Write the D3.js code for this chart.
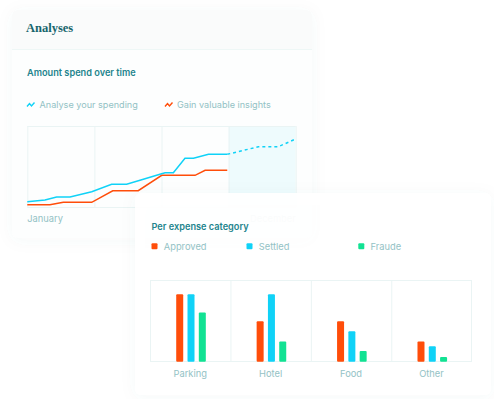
<!DOCTYPE html>
<html lang="en">
  <head>
    <meta charset="UTF-8" />
    <title>Analyses</title>
  </head>
  <style>
    body {
      margin: 0;
      background: #ffffff;
    }
    text {
      font-family: 'Inter', 'Roboto', sans-serif;
    }
  </style>
  <body>
    <svg id="svg" width="494" height="399"></svg>

    <script src="https://d3js.org/d3.v7.min.js"></script>
    <script>
      // line chart data (x in months from January, y in % of scale)
      const monthLabels = ['January', 'December'];
      const spendingX = [0, 0.79, 1.31, 1.91, 2.88, 3.77, 4.44, 5.04, 5.93, 6.16, 6.53, 7.05, 7.43, 8.1, 8.94];
      const spendingY = [6.5, 8.6, 12.3, 12.3, 18.9, 28, 28, 33, 40.4, 42.3, 42.3, 60.1, 60.1, 65, 65];
      const forecastX = [8.94, 10.33, 11.22, 12];
      const forecastY = [65, 74.4, 74.4, 84];
      const insightsX = [0, 1.01, 1.61, 2.88, 3.82, 4.96, 6.01, 7.5, 7.95, 8.94];
      const insightsY = [2.8, 2.8, 5.8, 5.8, 20.1, 20.1, 39.1, 39.1, 45.3, 45.3];
      const lineLegend = ['Analyse your spending', 'Gain valuable insights'];

      // bar chart data
      const categories = ['Parking', 'Hotel', 'Food', 'Other'];
      const statuses = ['Approved', 'Settled', 'Fraude'];
      const approved = [100, 60, 60, 30];
      const settled = [100, 100, 45, 23];
      const fraude = [73, 30, 16, 7];

      const cyan = '#10d2f7';
      const orange = '#ff4d0a';
      const green = '#12e293';
      const teal = '#23848d';
      const muted = '#93c2c5';
      const grid = '#eaf4f4';

      const svg = d3.select('#svg');

      const defs = svg.append('defs');
      const f = defs.append('filter').attr('id', 'shadow')
        .attr('x', '-20%').attr('y', '-20%').attr('width', '140%').attr('height', '140%');
      f.append('feDropShadow').attr('dx', 0).attr('dy', 2).attr('stdDeviation', 8)
        .attr('flood-color', '#4a7a80').attr('flood-opacity', 0.045);

      // ---------- top card ----------
      svg.append('rect')
        .attr('x', 12).attr('y', 10).attr('width', 300).attr('height', 228)
        .attr('rx', 6).attr('fill', '#fdfefe').attr('filter', 'url(#shadow)');
      svg.append('path')
        .attr('d', 'M18,10 H306 A6,6 0 0 1 312,16 V49 H12 V16 A6,6 0 0 1 18,10 Z')
        .attr('fill', '#fafbfb');
      svg.append('line')
        .attr('x1', 12).attr('x2', 312).attr('y1', 49.5).attr('y2', 49.5)
        .attr('stroke', '#eef7f6');

      svg.append('text')
        .attr('x', 26).attr('y', 32)
        .style('font-family', "'Liberation Serif', serif")
        .style('font-weight', 'bold')
        .style('font-size', '12.5px')
        .attr('fill', '#17666d')
        .text('Analyses');

      svg.append('text')
        .attr('x', 27).attr('y', 75.5)
        .style('font-weight', 600).style('font-size', '9.2px')
        .attr('fill', teal)
        .text('Amount spend over time');

      // legend of line chart
      const zig = (x0, y0) => `M${x0},${y0 + 2} l2.5,-3 l2,2.5 l3,-3.5`;
      [[cyan, 27, 39.5], [orange, 165, 177]].forEach(([c, lx, tx], i) => {
        svg.append('path').attr('d', zig(lx, 104.5))
          .attr('fill', 'none').attr('stroke', c).attr('stroke-width', 1.4);
        svg.append('text')
          .attr('x', tx).attr('y', 108.3)
          .style('font-size', '9.1px')
          .attr('fill', muted)
          .text(lineLegend[i]);
      });

      const x = d3.scaleLinear().domain([0, 12]).range([27.3, 295.7]);
      const y = d3.scaleLinear().domain([0, 100]).range([207, 126]);

      svg.append('rect')
        .attr('x', x(9)).attr('y', y(100))
        .attr('width', x(12) - x(9)).attr('height', y(0) - y(100))
        .attr('fill', '#eefbfd');

      svg.append('g').selectAll('line')
        .data([0, 3, 6, 9, 12]).join('line')
        .attr('x1', (d) => x(d) + 0.5).attr('x2', (d) => x(d) + 0.5)
        .attr('y1', y(100)).attr('y2', y(0))
        .attr('stroke', grid);
      svg.append('g').selectAll('line')
        .data([0, 100]).join('line')
        .attr('x1', x(0)).attr('x2', x(12))
        .attr('y1', (d) => y(d) + 0.5).attr('y2', (d) => y(d) + 0.5)
        .attr('stroke', grid);

      const line = d3.line().x((d) => x(d[0])).y((d) => y(d[1]));
      const pts = (xs, ys) => xs.map((v, i) => [v, ys[i]]);

      svg.append('path').datum(pts(insightsX, insightsY))
        .attr('d', line).attr('fill', 'none')
        .attr('stroke', orange).attr('stroke-width', 1.5);
      svg.append('path').datum(pts(spendingX, spendingY))
        .attr('d', line).attr('fill', 'none')
        .attr('stroke', cyan).attr('stroke-width', 1.5);
      svg.append('path').datum(pts(forecastX, forecastY))
        .attr('d', line).attr('fill', 'none')
        .attr('stroke', cyan).attr('stroke-width', 1.5)
        .attr('stroke-dasharray', '3,3');

      svg.append('text')
        .attr('x', x(0)).attr('y', 221.5)
        .style('font-size', '9.3px').attr('fill', muted)
        .text(monthLabels[0]);
      svg.append('text')
        .attr('x', x(12)).attr('y', 221.5).attr('text-anchor', 'end')
        .style('font-size', '9.3px').attr('fill', muted)
        .text(monthLabels[1]);

      // ---------- bottom card ----------
      svg.append('rect')
        .attr('x', 135).attr('y', 193).attr('width', 356).attr('height', 202)
        .attr('rx', 6).attr('fill', '#ffffff').attr('fill-opacity', 0.95)
        .attr('filter', 'url(#shadow)');

      svg.append('text')
        .attr('x', 151.5).attr('y', 230)
        .style('font-weight', 600).style('font-size', '9.2px')
        .attr('fill', teal)
        .text('Per expense category');

      const colors = [orange, cyan, green];
      const legendX = [151.5, 246.5, 358.3];
      statuses.forEach((s, i) => {
        svg.append('rect')
          .attr('x', legendX[i]).attr('y', 243.3)
          .attr('width', 6).attr('height', 6).attr('rx', 1)
          .attr('fill', colors[i]);
        svg.append('text')
          .attr('x', legendX[i] + 12.3).attr('y', 249.8)
          .style('font-size', '9.3px').attr('fill', muted)
          .text(s);
      });

      const bx = d3.scaleBand().domain(categories).range([150, 471.7]);
      const by = d3.scaleLinear().domain([0, 120]).range([361.7, 280.7]);
      const c = bx.bandwidth() / 2 + 0.8;
      const inner = d3.scaleBand().domain(statuses)
        .range([c - 14.8, c + 14.8]).paddingInner(0.38);

      svg.append('rect')
        .attr('x', 150.5).attr('y', 280.5)
        .attr('width', 321).attr('height', 81)
        .attr('fill', 'none').attr('stroke', grid);
      svg.append('g').selectAll('line')
        .data(categories.slice(1)).join('line')
        .attr('x1', (d) => bx(d) + 0.5).attr('x2', (d) => bx(d) + 0.5)
        .attr('y1', 280.5).attr('y2', 361.5)
        .attr('stroke', grid);

      const series = [approved, settled, fraude];
      const bars = [];
      categories.forEach((cat, ci) => {
        statuses.forEach((s, si) => {
          bars.push({ cat, s, v: series[si][ci], color: colors[si] });
        });
      });

      svg.append('g').selectAll('rect')
        .data(bars).join('rect')
        .attr('x', (d) => bx(d.cat) + inner(d.s))
        .attr('y', (d) => by(d.v))
        .attr('width', inner.bandwidth())
        .attr('height', (d) => by(0) - by(d.v))
        .attr('rx', 1)
        .attr('fill', (d) => d.color);

      svg.append('g').selectAll('text')
        .data(categories).join('text')
        .attr('x', (d) => bx(d) + bx.bandwidth() / 2)
        .attr('y', 376.5)
        .attr('text-anchor', 'middle')
        .style('font-size', '9.3px').attr('fill', muted)
        .text((d) => d);
    </script>
  </body>
</html>
